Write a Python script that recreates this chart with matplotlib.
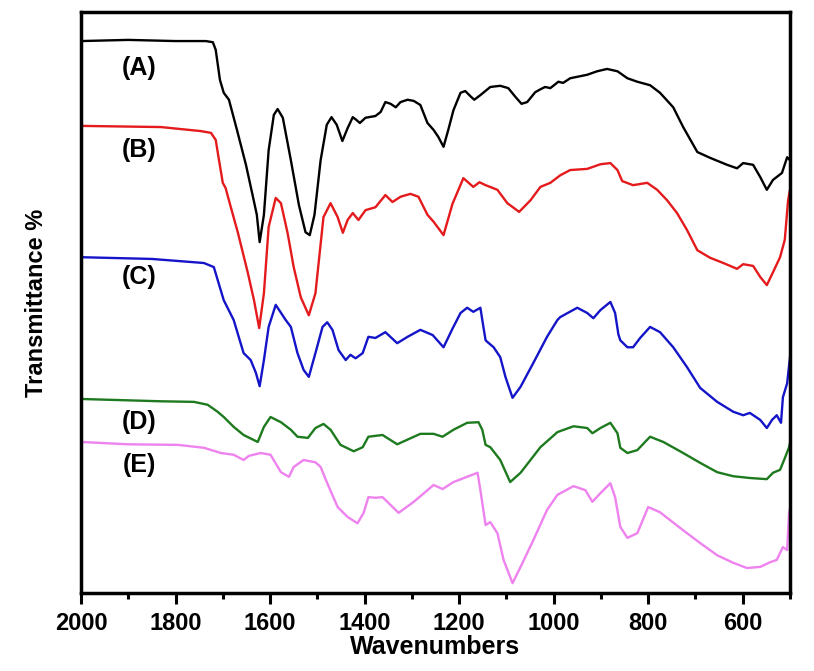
import matplotlib
matplotlib.use('Agg')
import matplotlib.pyplot as plt
from matplotlib.ticker import MultipleLocator

plt.rcParams['font.family'] = ['Liberation Sans', 'DejaVu Sans']
plt.rcParams['font.weight'] = 'bold'

# FTIR spectra, wavenumber (cm-1) vs transmittance (arbitrary offset units)
wn_a = [2000, 1900, 1800, 1736, 1721, 1715, 1706, 1698, 1687, 1670, 1651, 1637, 1628, 1622, 1613,
        1603, 1592, 1584, 1573, 1556, 1539, 1525, 1516, 1506, 1493, 1480, 1470, 1459, 1447, 1436,
        1425, 1417, 1410, 1398, 1377, 1366, 1356, 1345, 1334, 1324, 1309, 1296, 1282, 1267, 1254,
        1244, 1233, 1223, 1212, 1197, 1187, 1176, 1168, 1155, 1134, 1113, 1096, 1081, 1068, 1056,
        1039, 1028, 1018, 1007, 990, 980, 965, 929, 908, 887, 865, 844, 823, 796, 775, 747, 726,
        696, 669, 633, 612, 599, 578, 563, 549, 536, 517, 506, 500]
t_a = [95.0, 95.2, 95.0, 95.0, 94.8, 93.5, 88.3, 86.1, 84.9, 79.7, 73.7, 68.5, 65.1, 60.4, 65.1,
       76.2, 82.3, 83.3, 81.8, 74.5, 66.8, 62.1, 61.6, 65.1, 74.5, 80.6, 81.9, 80.6, 77.8, 80.0,
       81.9, 81.4, 80.9, 81.8, 82.1, 82.8, 84.5, 84.2, 83.6, 84.5, 84.9, 84.7, 84.0, 80.9, 79.7,
       78.5, 76.8, 79.7, 83.1, 86.1, 86.4, 85.5, 84.9, 85.7, 87.1, 87.3, 86.9, 85.4, 84.2, 84.5,
       86.2, 86.7, 87.1, 86.9, 88.0, 87.8, 88.6, 89.2, 89.8, 90.2, 89.8, 88.6, 88.0, 87.4, 86.1,
       83.6, 80.2, 75.9, 74.9, 73.7, 73.1, 74.0, 73.7, 71.6, 69.4, 71.1, 72.3, 75.0, 74.5]

wn_b = [2000, 1831, 1746, 1725, 1715, 1708, 1700, 1694, 1683, 1668, 1647, 1634, 1623, 1613, 1603,
        1588, 1577, 1563, 1550, 1535, 1518, 1504, 1487, 1472, 1457, 1446, 1436, 1425, 1413, 1398,
        1377, 1356, 1341, 1324, 1303, 1286, 1267, 1254, 1233, 1214, 1191, 1170, 1157, 1144, 1119,
        1098, 1073, 1049, 1028, 1007, 986, 965, 929, 901, 880, 865, 855, 832, 802, 781, 760, 739,
        718, 696, 669, 641, 612, 599, 578, 563, 549, 536, 521, 511, 504, 500]
t_b = [80.4, 80.2, 79.5, 79.2, 78.0, 74.5, 70.6, 69.7, 66.4, 62.0, 55.1, 50.4, 45.6, 51.6, 63.0,
       68.0, 67.1, 62.0, 56.1, 50.9, 47.8, 51.6, 64.7, 67.1, 64.7, 62.0, 64.2, 65.4, 64.2, 65.9,
       66.4, 68.5, 67.3, 68.2, 68.7, 68.2, 65.1, 63.9, 61.6, 67.0, 71.4, 69.9, 70.7, 70.2, 69.4,
       67.1, 65.6, 67.6, 69.9, 70.6, 71.9, 72.8, 73.0, 73.8, 74.0, 72.8, 70.9, 70.2, 70.6, 69.4,
       67.6, 65.4, 62.5, 59.0, 57.7, 56.8, 55.8, 56.6, 56.3, 54.4, 53.0, 55.2, 57.8, 60.8, 67.6, 69.4]

wn_c = [2000, 1850, 1740, 1719, 1698, 1677, 1656, 1641, 1630, 1622, 1613, 1603, 1588, 1567, 1556,
        1542, 1529, 1518, 1504, 1489, 1479, 1468, 1455, 1440, 1430, 1419, 1404, 1392, 1377, 1356,
        1331, 1309, 1282, 1256, 1233, 1214, 1197, 1183, 1170, 1155, 1151, 1144, 1140, 1127, 1113,
        1102, 1087, 1070, 1043, 1014, 992, 986, 950, 929, 916, 901, 880, 870, 863, 859, 844, 832,
        817, 796, 775, 747, 718, 690, 654, 620, 599, 585, 563, 549, 538, 528, 519, 515, 506, 500]
t_c = [57.8, 57.5, 56.8, 56.1, 50.4, 47.0, 41.3, 40.1, 37.9, 35.6, 40.1, 45.8, 49.6, 47.0, 45.8,
       41.3, 38.4, 37.2, 41.3, 45.8, 46.6, 45.3, 41.8, 40.1, 41.0, 40.4, 41.3, 44.1, 43.9, 44.9,
       43.0, 44.1, 45.3, 44.4, 42.3, 45.5, 48.2, 49.1, 48.4, 49.1, 47.0, 43.5, 43.2, 42.3, 40.6,
       37.2, 33.6, 35.5, 39.6, 44.1, 47.0, 47.5, 49.1, 48.2, 47.3, 48.7, 50.1, 48.2, 44.5, 43.5,
       42.3, 42.3, 43.9, 45.8, 44.9, 42.3, 38.9, 35.3, 32.9, 31.2, 30.6, 31.0, 29.8, 28.4, 29.8,
       30.6, 29.3, 33.7, 36.1, 40.6]

wn_d = [2000, 1831, 1761, 1732, 1711, 1698, 1677, 1656, 1626, 1613, 1599, 1577, 1556, 1542, 1520,
        1504, 1487, 1472, 1451, 1423, 1404, 1392, 1362, 1331, 1282, 1254, 1235, 1212, 1183, 1159,
        1151, 1144, 1134, 1113, 1092, 1070, 1028, 992, 958, 929, 918, 901, 880, 865, 859, 844, 823,
        796, 768, 726, 690, 654, 620, 585, 549, 536, 521, 511, 502, 500]
t_d = [33.4, 33.0, 32.9, 32.4, 31.2, 30.3, 28.6, 27.2, 26.0, 28.6, 30.3, 29.4, 28.1, 26.9, 26.7,
       28.4, 29.1, 28.1, 25.5, 24.4, 25.1, 26.9, 27.2, 25.6, 27.4, 27.4, 26.9, 28.1, 29.3, 29.4,
       28.1, 25.5, 25.1, 22.9, 19.1, 20.7, 25.1, 27.7, 28.7, 28.4, 27.5, 28.4, 29.3, 27.5, 25.0,
       24.1, 24.6, 26.9, 26.0, 24.1, 22.4, 20.8, 20.1, 19.8, 19.6, 20.7, 21.2, 23.2, 25.1, 25.8]

wn_e = [2000, 1901, 1795, 1740, 1704, 1677, 1656, 1645, 1620, 1599, 1577, 1560, 1550, 1529, 1504,
        1493, 1479, 1457, 1436, 1415, 1402, 1392, 1377, 1362, 1328, 1296, 1267, 1254, 1235, 1212,
        1161, 1155, 1144, 1134, 1119, 1106, 1087, 1070, 1043, 1014, 992, 958, 933, 918, 901, 880,
        870, 859, 844, 823, 800, 775, 726, 690, 654, 620, 591, 563, 542, 528, 515, 506, 502, 500]
t_e = [26.0, 25.6, 25.5, 25.0, 24.1, 23.8, 22.9, 23.6, 24.1, 23.8, 20.8, 20.0, 21.7, 22.9, 22.5,
       21.7, 18.9, 14.8, 13.1, 12.0, 13.8, 16.5, 16.4, 16.5, 13.8, 15.7, 17.7, 18.6, 17.9, 19.1,
       20.7, 17.7, 11.7, 12.2, 10.3, 5.7, 1.7, 4.5, 9.1, 14.3, 16.9, 18.4, 17.7, 15.7, 17.2, 18.9,
       16.5, 11.4, 9.5, 10.3, 14.8, 13.9, 10.8, 8.6, 6.5, 5.2, 4.3, 4.5, 5.3, 5.7, 7.9, 7.4, 13.8, 14.5]

labels = ['(A)', '(B)', '(C)', '(D)', '(E)']
label_y = [90.4, 76.2, 54.4, 29.4, 22.0]
colors = ['#000000', '#e41a1c', '#1414c8', '#1e7a1e', '#ee82ee']

fig = plt.figure(figsize=(8.14, 6.71), dpi=100)
ax = fig.add_axes([0.0995, 0.1162, 0.871, 0.8659])

for wn, t, c in zip([wn_a, wn_b, wn_c, wn_d, wn_e], [t_a, t_b, t_c, t_d, t_e], colors):
    ax.plot(wn, t, color=c, lw=1.7, solid_joinstyle='round')

for lab, y in zip(labels, label_y):
    ax.text(1877, y, lab, fontsize=18, fontweight='bold', ha='center', va='center')

ax.set_xlim(2000, 500)
ax.set_ylim(0, 100)
ax.xaxis.set_major_locator(MultipleLocator(200))
ax.xaxis.set_minor_locator(MultipleLocator(100))
ax.set_yticks([])
ax.tick_params(axis='x', which='major', direction='out', length=8, width=2.2,
               labelsize=17, pad=6)
ax.tick_params(axis='x', which='minor', direction='out', length=4, width=2.2)
for lbl in ax.get_xticklabels():
    lbl.set_fontweight('bold')
for s in ax.spines.values():
    s.set_linewidth(2.5)

ax.set_xlabel('Wavenumbers', fontsize=18, fontweight='bold', labelpad=0)
ax.set_ylabel('Transmittance %', fontsize=17, fontweight='bold', labelpad=24)

plt.savefig('out.png', dpi=100)
